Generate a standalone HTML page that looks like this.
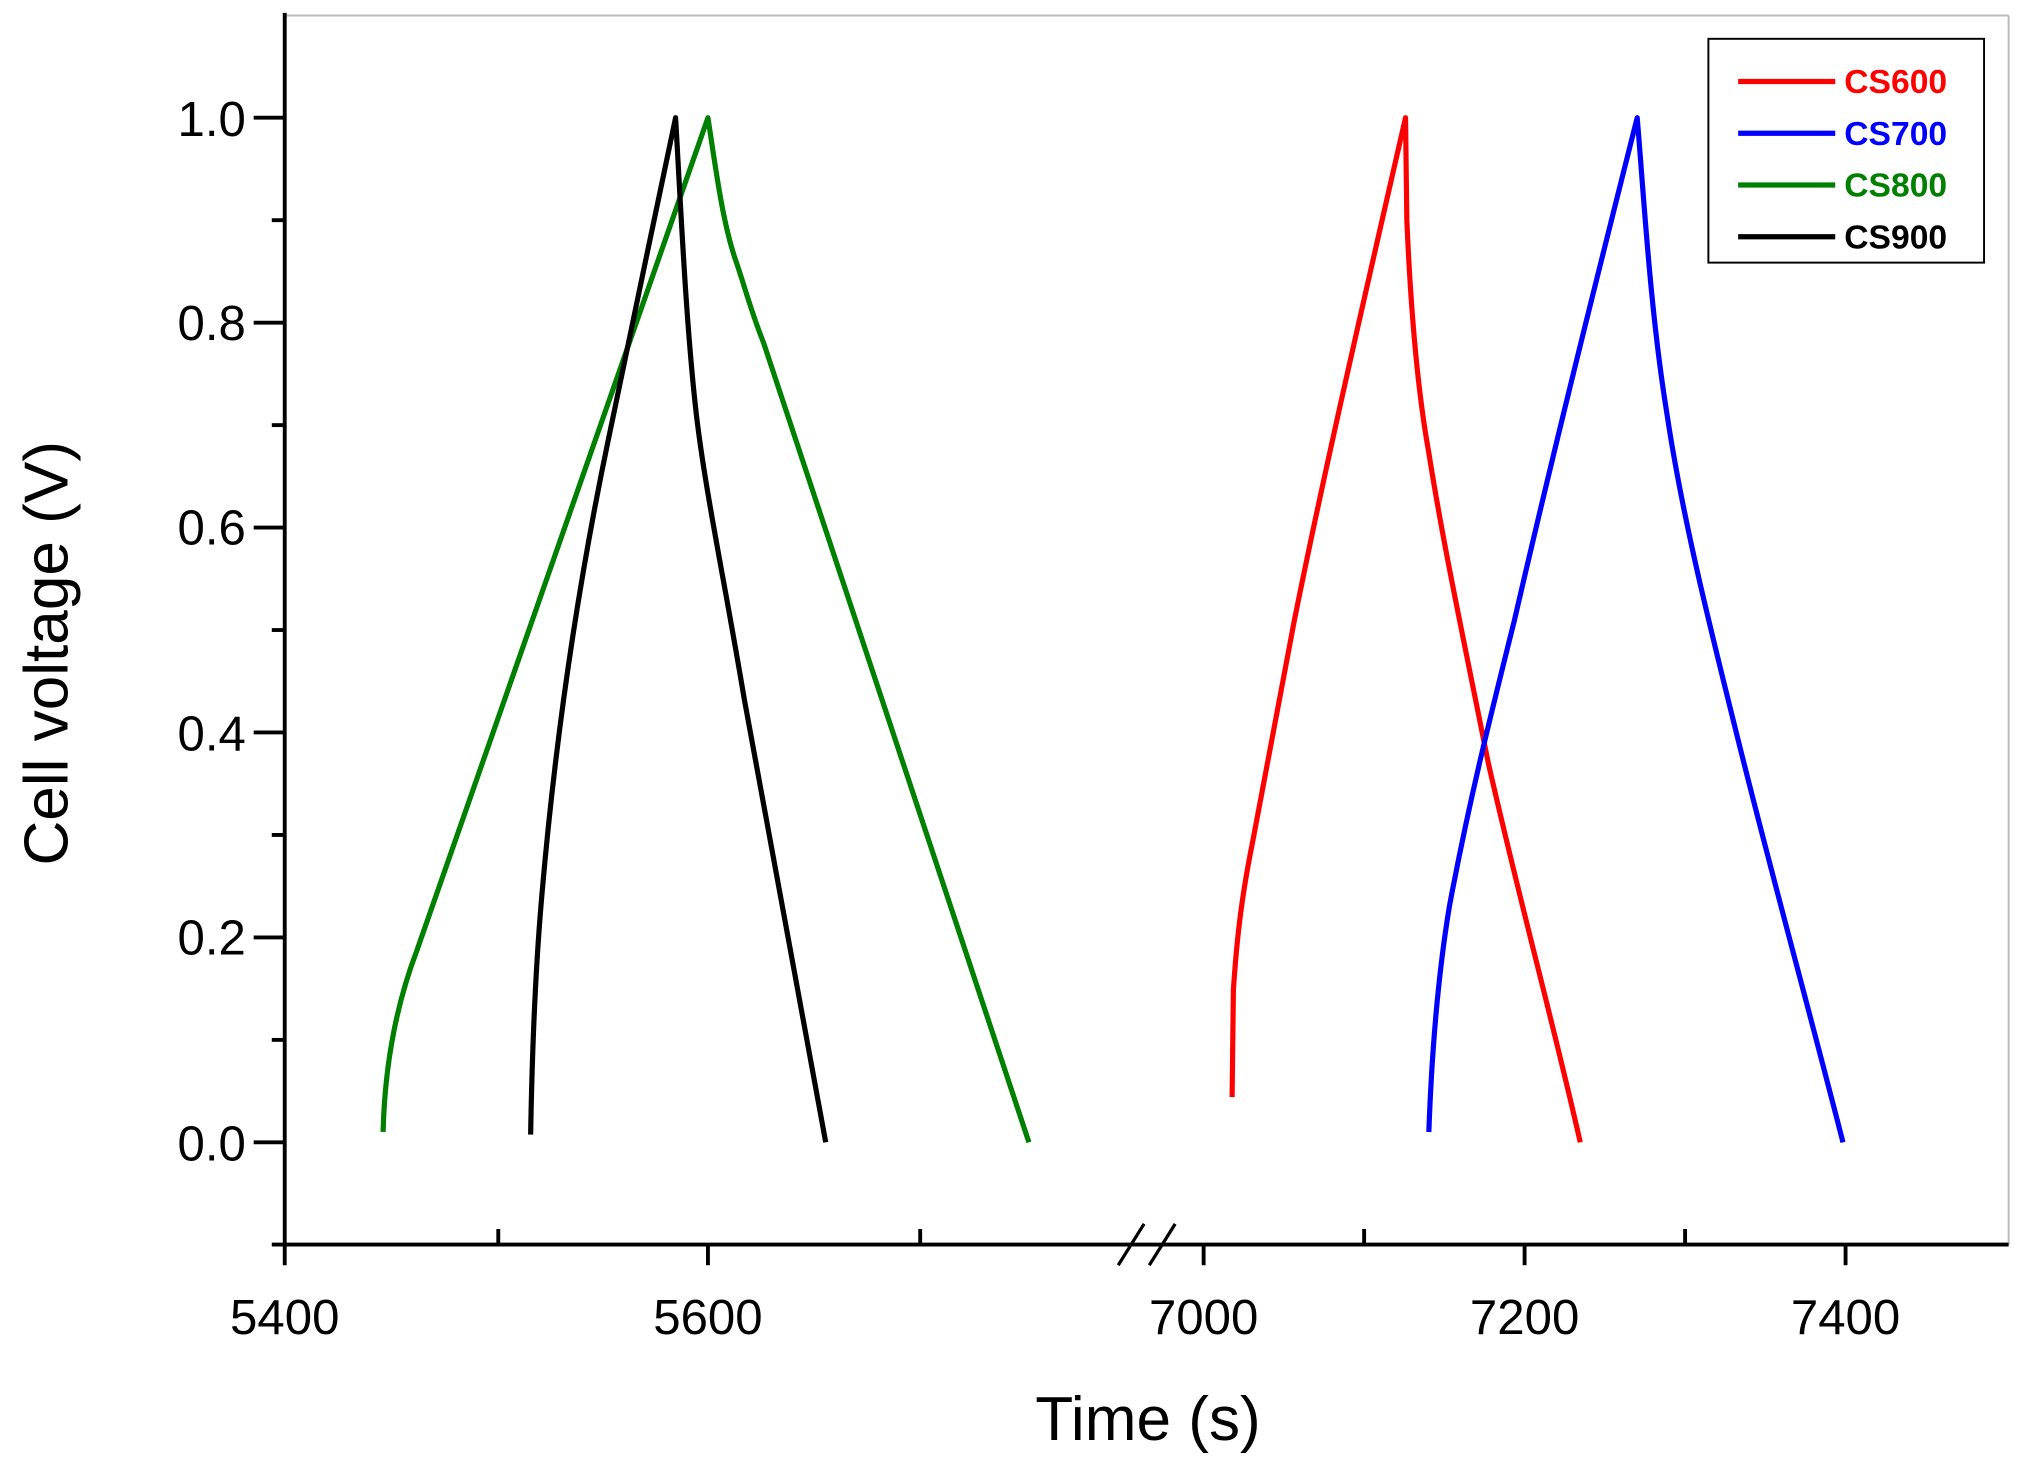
<!DOCTYPE html>
<html><head><style>html,body{margin:0;padding:0;background:#fff;}svg{display:block}</style></head>
<body>
<svg width="2019" height="1458" viewBox="0 0 1560 1127" preserveAspectRatio="none" xmlns="http://www.w3.org/2000/svg" font-family="Liberation Sans, Arial, sans-serif">
<rect width="1560" height="1127" fill="#fff"/>
<line x1="220" y1="12" x2="1552" y2="12" stroke="#bbb" stroke-width="1.5"/>
<line x1="1552" y1="12" x2="1552" y2="962" stroke="#bbb" stroke-width="1.5"/>
<line x1="220" y1="10" x2="220" y2="964" stroke="#000" stroke-width="3"/>
<line x1="210" y1="962" x2="1552" y2="962" stroke="#000" stroke-width="3"/>
<g stroke="#000" stroke-width="3">
<line x1="196" y1="883" x2="220" y2="883"/><line x1="196" y1="724.6" x2="220" y2="724.6"/>
<line x1="196" y1="566.2" x2="220" y2="566.2"/><line x1="196" y1="407.8" x2="220" y2="407.8"/>
<line x1="196" y1="249.4" x2="220" y2="249.4"/><line x1="196" y1="91" x2="220" y2="91"/>
<line x1="210" y1="803.8" x2="220" y2="803.8"/><line x1="210" y1="645.4" x2="220" y2="645.4"/>
<line x1="210" y1="487" x2="220" y2="487"/><line x1="210" y1="328.6" x2="220" y2="328.6"/>
<line x1="210" y1="170.2" x2="220" y2="170.2"/>
<line x1="220" y1="962" x2="220" y2="978"/><line x1="547" y1="962" x2="547" y2="978"/>
<line x1="930" y1="962" x2="930" y2="978"/><line x1="1178" y1="962" x2="1178" y2="978"/>
<line x1="1426" y1="962" x2="1426" y2="978"/>
<line x1="385" y1="962" x2="385" y2="950"/><line x1="711" y1="962" x2="711" y2="950"/>
<line x1="1054" y1="962" x2="1054" y2="950"/><line x1="1302" y1="962" x2="1302" y2="950"/>
<line x1="864" y1="978" x2="884" y2="946" stroke-width="2.5"/>
<line x1="888" y1="978" x2="908" y2="946" stroke-width="2.5"/>
</g>
<g font-size="38" fill="#000" text-anchor="end">
<text x="190" y="897">0.0</text><text x="190" y="738">0.2</text><text x="190" y="580">0.4</text>
<text x="190" y="421">0.6</text><text x="190" y="263">0.8</text><text x="190" y="105">1.0</text>
</g>
<g font-size="38" fill="#000" text-anchor="middle">
<text x="220" y="1031">5400</text><text x="547" y="1031">5600</text>
<text x="930" y="1031">7000</text><text x="1178" y="1031">7200</text><text x="1426" y="1031">7400</text>
</g>
<text x="887" y="1113" font-size="48" text-anchor="middle">Time (s)</text>
<text transform="translate(52,505) rotate(-90)" font-size="48" text-anchor="middle">Cell voltage (V)</text>
<g fill="none" stroke-width="4" stroke-linejoin="round">
<path stroke="#008000" d="M296,875 C297,835 303,785 322,735 L547,91 C553,130 558,170 568,200 C575,220 580,240 590,265 L795,883"/>
<path stroke="#000" d="M410,877 C411,820 413,760 418,700 C428,580 445,460 470,340 C485,270 505,170 522,91 C526,160 530,250 538,320 C545,380 560,450 575,540 L638,883"/>
<path stroke="#ff0000" d="M952,848 L953,765 C956,720 960,690 968,650 L1000,480 C1020,380 1045,270 1086,91 L1087,170 C1090,240 1095,300 1104,350 C1115,420 1130,490 1150,590 C1175,700 1200,790 1221,883"/>
<path stroke="#0000ff" d="M1104,875 C1106,820 1110,760 1120,700 C1135,620 1150,560 1170,480 C1200,350 1230,230 1265,91 C1270,150 1275,240 1288,320 C1300,400 1320,480 1345,580 C1370,680 1395,770 1424,883"/>
</g>
<rect x="1320" y="30" width="213" height="173" fill="#fff" stroke="#000" stroke-width="1.5"/>
<g stroke-width="4">
<line x1="1343" y1="63" x2="1418" y2="63" stroke="#ff0000"/>
<line x1="1343" y1="103" x2="1418" y2="103" stroke="#0000ff"/>
<line x1="1343" y1="143" x2="1418" y2="143" stroke="#008000"/>
<line x1="1343" y1="183" x2="1418" y2="183" stroke="#000"/>
</g>
<g font-size="26" font-weight="bold">
<text x="1425" y="72" fill="#ff0000">CS600</text>
<text x="1425" y="112" fill="#0000ff">CS700</text>
<text x="1425" y="152" fill="#008000">CS800</text>
<text x="1425" y="192" fill="#000">CS900</text>
</g>
</svg>
</body></html>
